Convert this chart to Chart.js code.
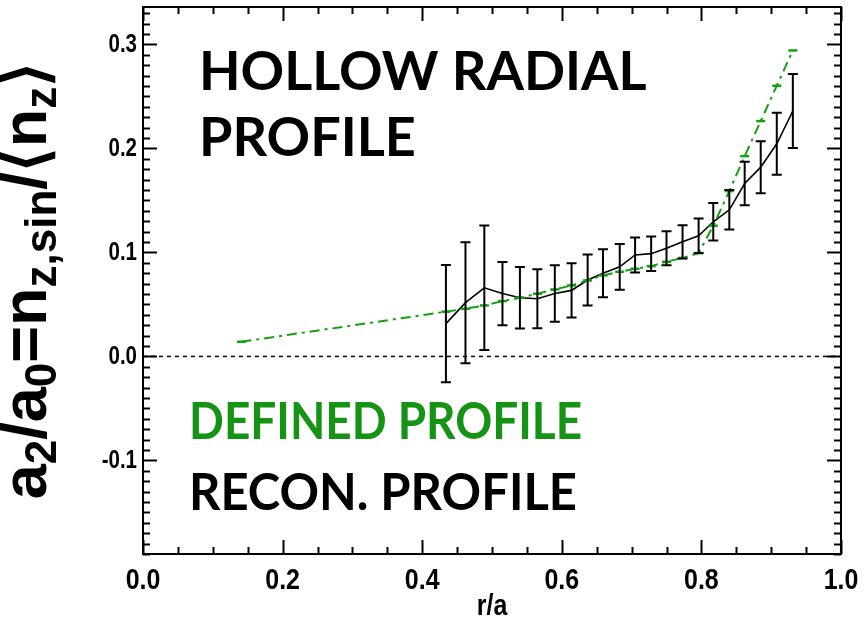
<!DOCTYPE html>
<html>
<head>
<meta charset="utf-8">
<script src="https://cdn.jsdelivr.net/npm/chart.js@4.4.1/dist/chart.umd.min.js"></script>
<style>
  html, body { margin: 0; padding: 0; background: #ffffff; }
  #wrap { width: 865px; height: 625px; }
</style>
</head>
<body>
<div id="wrap"><canvas id="chart" width="865" height="625"></canvas></div>
<script>
// Reconstructed profile: r/a positions, values and one-sigma errors
const reconR   = [0.434, 0.462, 0.489, 0.515, 0.540, 0.565, 0.590, 0.614, 0.637, 0.659, 0.683,
                  0.705, 0.728, 0.750, 0.773, 0.796, 0.817, 0.840, 0.862, 0.885, 0.908, 0.931];
const reconVal = [0.0315, 0.0517, 0.0660, 0.0604, 0.0564, 0.0554, 0.0605, 0.0635, 0.0735, 0.0800, 0.0862,
                  0.0976, 0.0988, 0.1040, 0.1102, 0.1160, 0.1295, 0.1410, 0.1663, 0.1820, 0.2045, 0.2360];
const reconErr = [0.0564, 0.0582, 0.0598, 0.0305, 0.0295, 0.0284, 0.0272, 0.0260, 0.0246, 0.0230, 0.0220,
                  0.0168, 0.0166, 0.0164, 0.0160, 0.0165, 0.0180, 0.0190, 0.0210, 0.0250, 0.0297, 0.0356];

// Defined (input) profile
const definedR   = [0.141, 0.434, 0.462, 0.489, 0.515, 0.540, 0.565, 0.590, 0.614, 0.637, 0.659, 0.683,
                    0.705, 0.728, 0.750, 0.773, 0.796, 0.817, 0.840, 0.862, 0.885, 0.908, 0.931];
const definedVal = [0.0141, 0.0430, 0.0459, 0.0490, 0.0532, 0.0564, 0.0603, 0.0644, 0.0683, 0.0731, 0.0779, 0.0814,
                    0.0843, 0.0868, 0.0910, 0.0947, 0.0993, 0.1257, 0.1590, 0.1926, 0.2263, 0.2603, 0.2942];

// Axis ranges and tick labels
const xRange = [0, 1];
const yRange = [-0.19, 0.336];
const xTickLabels = [0.0, 0.2, 0.4, 0.6, 0.8, 1.0];
const yTickLabels = [-0.1, 0.0, 0.1, 0.2, 0.3];
const xMinorStep = 0.05;
const yMinorStep = 0.01;

const GREEN = '#13a013';
const GREEN_TEXT = '#159315';
const AXIS_FONT = '"Liberation Sans", Arimo, Arial, Helvetica, sans-serif';
const NOTE_FONT = 'Lato, "Open Sans", sans-serif';

const toPts = (xs, ys) => xs.map((x, i) => ({ x: x, y: ys[i] }));

// Error bars for the reconstructed profile
const errorBars = {
  id: 'errorBars',
  afterDatasetsDraw(chart) {
    const { ctx, scales: { x, y } } = chart;
    ctx.save();
    ctx.strokeStyle = '#000';
    ctx.lineWidth = 2;
    reconR.forEach((r, i) => {
      const px = x.getPixelForValue(r);
      const top = y.getPixelForValue(reconVal[i] + reconErr[i]);
      const bot = y.getPixelForValue(reconVal[i] - reconErr[i]);
      ctx.beginPath();
      ctx.moveTo(px, top); ctx.lineTo(px, bot);
      ctx.moveTo(px - 5, top); ctx.lineTo(px + 5, top);
      ctx.moveTo(px - 5, bot); ctx.lineTo(px + 5, bot);
      ctx.stroke();
    });
    ctx.restore();
  }
};

function scaledText(ctx, text, x, y, sx, align) {
  ctx.save();
  ctx.translate(x, y);
  ctx.scale(sx, 1);
  ctx.textAlign = align;
  ctx.fillText(text, 0, 0);
  ctx.restore();
}

// Box frame with inward ticks on all four sides, tick labels, axis titles, annotations
const frame = {
  id: 'frame',
  afterDraw(chart) {
    const { ctx, chartArea: a, scales: { x, y } } = chart;
    ctx.save();
    ctx.strokeStyle = '#000';
    ctx.lineWidth = 2;
    ctx.strokeRect(a.left, a.top, a.right - a.left, a.bottom - a.top);

    ctx.beginPath();
    for (let v = xRange[0]; v <= xRange[1] + 1e-9; v += xMinorStep) {
      const px = Math.round(x.getPixelForValue(v)) + 0.5;
      const major = Math.abs(v / 0.2 - Math.round(v / 0.2)) < 1e-6;
      const len = major ? 14 : 7;
      ctx.moveTo(px, a.bottom); ctx.lineTo(px, a.bottom - len);
      ctx.moveTo(px, a.top); ctx.lineTo(px, a.top + len);
    }
    const first = Math.ceil(yRange[0] / yMinorStep - 1e-6);
    const last = Math.floor(yRange[1] / yMinorStep + 1e-6);
    for (let k = first; k <= last; k++) {
      const v = k * yMinorStep;
      const py = Math.round(y.getPixelForValue(v)) + 0.5;
      const major = k % 10 === 0;
      const len = major ? 14 : 7;
      ctx.moveTo(a.left, py); ctx.lineTo(a.left + len, py);
      ctx.moveTo(a.right, py); ctx.lineTo(a.right - len, py);
    }
    ctx.stroke();

    // tick labels
    ctx.fillStyle = '#000';
    ctx.font = 'bold 25px ' + AXIS_FONT;
    ctx.textBaseline = 'middle';
    yTickLabels.forEach(v => {
      scaledText(ctx, v.toFixed(1), a.left - 6, y.getPixelForValue(v) + 1, 0.82, 'right');
    });
    ctx.font = 'bold 29px ' + AXIS_FONT;
    ctx.textBaseline = 'alphabetic';
    xTickLabels.forEach(v => {
      scaledText(ctx, v.toFixed(1), x.getPixelForValue(v), 589, 0.86, 'center');
    });
    scaledText(ctx, 'r/a', (a.left + a.right) / 2, 615, 0.86, 'center');

    // y-axis title with subscripts
    const parts = [['a', 0], ['2', 1], ['/', 0], ['a', 0], ['0', 1], ['=', 0], ['n', 0], ['z,sin', 1],
                   ['/', 0], ['\u27E8', 0], ['n', 0], ['z', 1], ['\u27E9', 0]];
    const mainFont = 'bold 63px ' + AXIS_FONT;
    const subFont = 'bold 44px ' + AXIS_FONT;
    let total = 0;
    parts.forEach(p => { ctx.font = p[1] ? subFont : mainFont; total += ctx.measureText(p[0]).width; });
    ctx.save();
    ctx.translate(46, (a.top + a.bottom) / 2);
    ctx.rotate(-Math.PI / 2);
    ctx.textAlign = 'left';
    let cx = -total / 2;
    parts.forEach(p => {
      ctx.font = p[1] ? subFont : mainFont;
      ctx.fillText(p[0], cx, p[1] ? 10 : 0);
      cx += ctx.measureText(p[0]).width;
    });
    ctx.restore();

    // annotations
    ctx.font = 'bold 54px ' + NOTE_FONT;
    ctx.fillStyle = '#000';
    scaledText(ctx, 'HOLLOW RADIAL', 199, 90, 1.0, 'left');
    scaledText(ctx, 'PROFILE', 199, 156, 1.0, 'left');
    ctx.font = 'bold 51px ' + NOTE_FONT;
    ctx.fillStyle = GREEN_TEXT;
    scaledText(ctx, 'DEFINED PROFILE', 189, 439, 0.9, 'left');
    ctx.fillStyle = '#000';
    scaledText(ctx, 'RECON. PROFILE', 189, 510, 0.96, 'left');
    ctx.restore();
  }
};

new Chart(document.getElementById('chart'), {
  type: 'scatter',
  data: {
    datasets: [
      {
        label: 'zero',
        data: toPts(xRange, [0, 0]),
        showLine: true,
        borderColor: '#000',
        borderWidth: 1.5,
        borderDash: [4, 4],
        pointRadius: 0
      },
      {
        label: 'DEFINED PROFILE',
        data: toPts(definedR, definedVal),
        showLine: true,
        borderColor: GREEN,
        borderWidth: 2,
        borderDash: [10, 5, 3, 5],
        pointStyle: 'line',
        pointRadius: 4.5,
        pointBorderColor: GREEN,
        pointBorderWidth: 2.5
      },
      {
        label: 'RECON. PROFILE',
        data: toPts(reconR, reconVal),
        showLine: true,
        borderColor: '#000',
        borderWidth: 1.6,
        pointRadius: 0
      }
    ]
  },
  options: {
    responsive: false,
    animation: false,
    devicePixelRatio: 1,
    layout: { padding: { top: 7, right: 24, left: 0, bottom: 0 } },
    plugins: { legend: { display: false }, tooltip: { enabled: false } },
    scales: {
      x: {
        type: 'linear', min: xRange[0], max: xRange[1],
        grid: { display: false }, border: { display: false }, ticks: { display: false },
        afterFit(s) { s.height = 71; }
      },
      y: {
        type: 'linear', min: yRange[0], max: yRange[1],
        grid: { display: false }, border: { display: false }, ticks: { display: false },
        afterFit(s) { s.width = 143; }
      }
    }
  },
  plugins: [errorBars, frame]
});
</script>
</body>
</html>
